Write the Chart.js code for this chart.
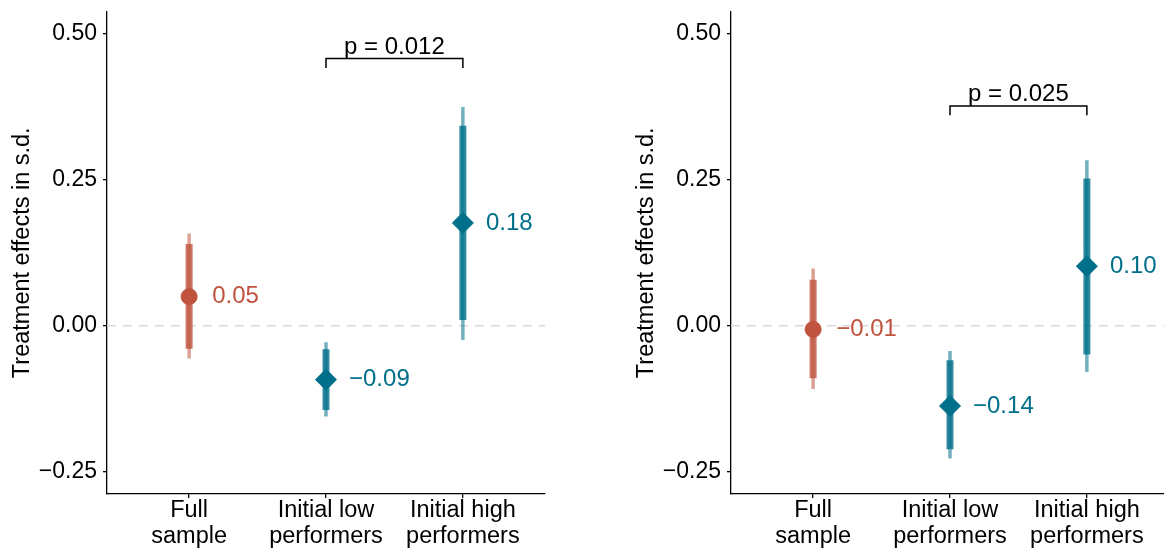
<!DOCTYPE html>
<html><head><meta charset="utf-8">
<script src="https://cdn.jsdelivr.net/npm/chart.js@4"></script>
<style>
html,body{margin:0;padding:0;background:#fff;overflow:hidden;width:1164px;height:550px;}
.wrap{position:absolute;top:0;width:584px;height:550px;}
</style></head><body>
<div class="wrap" style="left:0"><canvas id="c1" width="584" height="550"></canvas></div>
<div class="wrap" style="left:624px"><canvas id="c2" width="584" height="550"></canvas></div>
<script>
// ---- data ----
const categories = [["Full", "sample"], ["Initial low", "performers"], ["Initial high", "performers"]];
const yTicks = [-0.25, 0, 0.25, 0.5];
const yTitle = "Treatment effects in s.d.";
const referenceValue = 0;

// left panel
const leftEstimate = [0.050, -0.092, 0.176];
const leftInnerLow = [-0.039, -0.144, 0.010];
const leftInnerHigh = [0.140, -0.040, 0.342];
const leftOuterLow = [-0.056, -0.155, -0.024];
const leftOuterHigh = [0.158, -0.028, 0.374];
const leftPText = "p = 0.012";
const leftBracket = [0.457, 0.441];   // bar level, end-tick level

// right panel
const rightEstimate = [-0.006, -0.137, 0.102];
const rightInnerLow = [-0.0895, -0.211, -0.049];
const rightInnerHigh = [0.079, -0.059, 0.252];
const rightOuterLow = [-0.108, -0.227, -0.079];
const rightOuterHigh = [0.098, -0.043, 0.283];
const rightPText = "p = 0.025";
const rightBracket = [0.376, 0.360];

const bracketPair = [2, 3]; // compared categories (1-based)

// ---- styles ----
const groupRGB = [[192, 82, 62], [0, 112, 138], [0, 112, 138]];
const markerStyle = ["circle", "rectRot", "rectRot"];
const markerRadius = [8, 10.5, 10.5];
const FONT = "'Liberation Sans', Arial, Helvetica, sans-serif";
Chart.defaults.font.family = FONT;
Chart.defaults.color = "#000";

const rgba = (c, a) => `rgba(${c[0]},${c[1]},${c[2]},${a})`;
const fmt = v => (v < 0 ? "\u2212" : "") + Math.abs(v).toFixed(2);

function makeChart(canvasId, est, inLo, inHi, outLo, outHi, pText, bracket) {
  const datasets = [];
  categories.forEach((c, i) => {
    datasets.push({
      type: "line", data: [{x: i + 1, y: outLo[i]}, {x: i + 1, y: outHi[i]}],
      borderColor: rgba(groupRGB[i], 0.55), borderWidth: 3.5, pointRadius: 0,
      borderCapStyle: "butt", order: 3
    });
    datasets.push({
      type: "line", data: [{x: i + 1, y: inLo[i]}, {x: i + 1, y: inHi[i]}],
      borderColor: rgba(groupRGB[i], 0.8), borderWidth: 7, pointRadius: 0,
      borderCapStyle: "butt", order: 2
    });
  });
  categories.forEach((c, i) => {
    datasets.push({
      type: "scatter", data: [{x: i + 1, y: est[i]}],
      pointStyle: markerStyle[i], pointRadius: markerRadius[i], pointHoverRadius: markerRadius[i],
      backgroundColor: rgba(groupRGB[i], 1), borderColor: rgba(groupRGB[i], 1), borderWidth: 1,
      order: 1
    });
  });

  const annot = {
    id: "annot",
    beforeDatasetsDraw(chart) {
      const {ctx, chartArea, scales: {y}} = chart;
      const py = y.getPixelForValue(referenceValue);
      ctx.save();
      ctx.strokeStyle = "#d9d9d9";
      ctx.lineWidth = 1.5;
      ctx.setLineDash([9, 7]);
      ctx.beginPath();
      ctx.moveTo(chartArea.left, py);
      ctx.lineTo(chartArea.right, py);
      ctx.stroke();
      ctx.restore();
    },
    afterDatasetsDraw(chart) {
      const {ctx, scales: {x, y}} = chart;
      ctx.save();
      ctx.font = `24px ${FONT}`;
      ctx.textAlign = "left";
      ctx.textBaseline = "middle";
      est.forEach((v, i) => {
        ctx.fillStyle = rgba(groupRGB[i], 1);
        ctx.fillText(fmt(v), x.getPixelForValue(i + 1) + 23, y.getPixelForValue(v));
      });
      // bracket
      const x1 = x.getPixelForValue(bracketPair[0]);
      const x2 = x.getPixelForValue(bracketPair[1]);
      const yb = y.getPixelForValue(bracket[0]);
      const yt = y.getPixelForValue(bracket[1]);
      ctx.strokeStyle = "#000";
      ctx.lineWidth = 1.5;
      ctx.beginPath();
      ctx.moveTo(x1, yt); ctx.lineTo(x1, yb); ctx.lineTo(x2, yb); ctx.lineTo(x2, yt);
      ctx.stroke();
      ctx.fillStyle = "#000";
      ctx.textAlign = "center";
      ctx.textBaseline = "alphabetic";
      ctx.fillText(pText, (x1 + x2) / 2, yb - 5);
      ctx.restore();
    }
  };

  return new Chart(document.getElementById(canvasId), {
    type: "scatter",
    data: {datasets},
    plugins: [annot],
    options: {
      responsive: false,
      animation: false,
      events: [],
      layout: {padding: {left: 0, right: 39, top: 2, bottom: 0}},
      plugins: {legend: {display: false}, tooltip: {enabled: false}},
      scales: {
        x: {
          type: "linear", min: 0.4, max: 3.6,
          afterBuildTicks: s => { s.ticks = categories.map((c, i) => ({value: i + 1})); },
          afterFit: s => { s.height = 56; s.paddingLeft = 0; s.paddingRight = 0; },
          ticks: {
            callback: v => categories[Math.round(v) - 1],
            font: {size: 23.5, lineHeight: 1.08}, color: "#000", padding: 0, maxRotation: 0, autoSkip: false
          },
          grid: {display: true, drawOnChartArea: false, drawTicks: true, tickLength: 4, color: "#000", lineWidth: 1.3},
          border: {display: true, color: "#000", width: 1.3}
        },
        y: {
          type: "linear", min: -0.2875, max: 0.5375,
          afterBuildTicks: s => { s.ticks = yTicks.map(v => ({value: v})); },
          afterFit: s => { s.width = 107; s.paddingTop = 0; s.paddingBottom = 0; },
          ticks: {callback: v => fmt(v), font: {size: 23}, color: "#000", padding: 6},
          grid: {display: true, drawOnChartArea: false, drawTicks: true, tickLength: 4, color: "#000", lineWidth: 1.3},
          border: {display: true, color: "#000", width: 1.3},
          title: {display: true, text: yTitle, font: {size: 23.5, lineHeight: 1.2}, color: "#000", padding: {top: 8, bottom: 0}}
        }
      }
    }
  });
}

makeChart("c1", leftEstimate, leftInnerLow, leftInnerHigh, leftOuterLow, leftOuterHigh, leftPText, leftBracket);
makeChart("c2", rightEstimate, rightInnerLow, rightInnerHigh, rightOuterLow, rightOuterHigh, rightPText, rightBracket);
</script>
</body></html>
